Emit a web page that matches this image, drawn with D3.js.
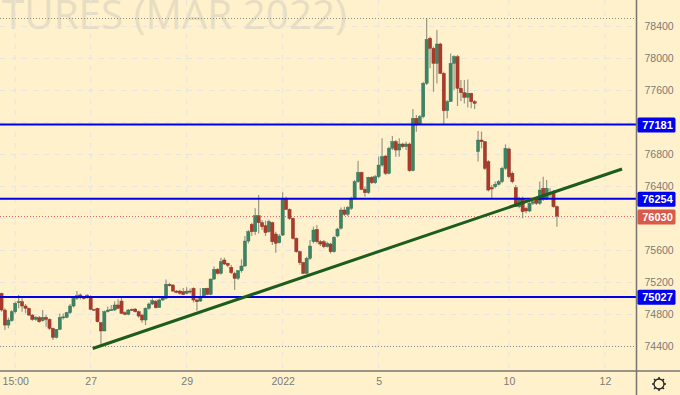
<!DOCTYPE html>
<html>
<head>
<meta charset="utf-8">
<script src="https://cdn.jsdelivr.net/npm/d3@7"></script>
<style>
  html, body { margin: 0; padding: 0; background: #fff1cc; }
  svg { display: block; }
  .axis text { font-family: "Liberation Sans", sans-serif; font-size: 10.5px; fill: #7c7b74; }
  .axis .domain, .axis line { display: none; }
</style>
</head>
<body>
<svg id="chart"></svg>
<script>
const opens = [75064,74856,74668,74723,74835,74948,74960,74906,74877,74793,74739,74760,74723,74764,74739,74627,74514,74614,74764,74764,74823,74906,75002,75044,75010,75010,75023,74864,74877,74698,74594,74835,74856,74856,74919,74968,74823,74802,74864,74868,74835,74793,74731,74877,74931,74965,74889,74981,75002,75177,75168,75093,75093,75085,75064,75093,75127,74981,74968,75023,75127,75052,75243,75364,75314,75481,75439,
  75389,75314,75252,75348,75406,75718,75927,75835,76035,75948,75910,75835,75948,75806,75698,75793,76252,76114,76002,75752,75585,75448,75314,75502,75710,75864,75710,75710,75648,75681,75585,75781,75877,76106,76052,76127,76252,76460,76577,76364,76323,76514,76448,76523,76668,76781,76564,76877,76960,76856,76931,76898,76931,
  76598,77252,77181,77273,77689,78252,78127,77939,78181,77814,77348,77460,77939,78023,77627,77573,77514,77564,77460,
  76836,76981,76961,76711,76386,76398,76427,76461,76627,76869,76565,76386,76148,76252,76127,76094,76190,76231,76190,76377,76244,76315,76315,76148];
const closes = [74856,74668,74731,74835,74939,74960,74906,74877,74793,74739,74764,74710,74764,74739,74627,74514,74614,74764,74770,74823,74906,75002,75035,75010,75002,75039,74864,74856,74710,74594,74835,74856,74860,74919,74877,74814,74802,74856,74856,74835,74781,74731,74877,74931,74973,74885,74981,75010,75177,75160,75093,75077,75064,75052,75093,75085,74981,74960,75023,75127,75052,75243,75364,75314,75460,75431,75414,
  75323,75252,75348,75406,75718,75835,75835,76035,75948,75898,75823,75960,75710,75689,75781,76252,76114,76002,75752,75585,75448,75314,75502,75656,75856,75710,75681,75648,75689,75585,75764,75868,76106,76052,76139,76252,76460,76577,76364,76323,76514,76448,76523,76668,76773,76564,76877,76960,76856,76931,76898,76931,76598,
  77252,77169,77273,77689,78239,78127,77939,78181,77814,77348,77460,77939,78023,77627,77573,77514,77564,77460,77439,
  76981,76961,76627,76356,76369,76427,76461,76627,76877,76523,76461,76148,76252,76086,76094,76190,76211,76190,76356,76244,76377,76320,76148,76030];
const highs = [75073,74877,74764,74856,74960,75044,75002,74931,74889,74806,74781,74781,74856,74793,74752,74639,74620,74814,74814,74835,74931,75023,75093,75064,75031,75056,75040,74870,74885,74710,74850,74900,74919,74965,74990,75005,74840,74870,74875,74880,74850,74810,74890,74950,75002,74985,75000,75030,75239,75195,75180,75105,75110,75130,75140,75125,75140,75000,75127,75130,75135,75250,75400,75380,75510,75510,75450,
  75418,75335,75356,75489,75781,75856,75948,76127,76293,75981,75973,75989,75960,75835,75806,76327,76273,76127,76014,75764,75598,75460,75523,75731,75898,75918,75731,75731,75710,75698,75781,75885,76139,76148,76156,76273,76481,76723,76585,76398,76523,76531,76543,76773,77002,76793,76898,77031,76981,77002,76948,76960,76948,
  77368,77293,77293,77710,78502,78273,78148,78356,78197,77835,77481,78064,78040,78043,77731,77731,77739,77573,77481,
  77094,77086,76969,76731,76419,76461,76481,76648,76927,76886,76586,76419,76273,76273,76148,76231,76244,76273,76461,76523,76481,76377,76356,76161];
const lows = [74835,74606,74627,74710,74814,74877,74835,74814,74781,74723,74723,74698,74710,74648,74606,74481,74500,74606,74739,74752,74806,74889,74981,74989,74989,74998,74856,74850,74700,74418,74590,74825,74845,74845,74870,74805,74790,74790,74845,74825,74760,74698,74668,74860,74920,74875,74880,74970,74990,75150,75085,75065,75050,75040,75050,75060,74950,74848,74955,75010,75040,75040,75230,75300,75300,75420,75390,
  75306,75106,75231,75323,75398,75689,75781,75793,75814,75856,75781,75823,75668,75573,75689,75781,76106,75981,75739,75573,75418,75306,75306,75481,75689,75689,75656,75627,75639,75564,75573,75764,75864,76031,76031,76106,76239,76448,76356,76273,76306,76431,76431,76502,76648,76543,76552,76856,76773,76773,76877,76856,76585,
  76590,77085,77169,77252,77669,77877,77585,77689,77806,77181,77252,77920,77606,77406,77470,77439,77389,77377,77370,
  76711,76877,76606,76336,76244,76377,76411,76440,76606,76502,76440,76244,76127,76002,76065,76077,76169,76169,76169,76219,76231,76261,76135,75898];

const priceTicks = [74400,74800,75200,75600,76000,76400,76800,77200,77600,78000,78400];
// 77200 and 76000 sit under the price tags, so they get no label
const priceLabels = [74400,74800,75200,75600,76400,76800,77600,78000,78400];
const timeTickIndex = [4,26,54,82,110,148,176];
const timeTickLabels = ['15:00','27','29','2022','5','10','12'];
const levels = [77181,76254,75027];
const lastPrice = 76030;
const dottedLevels = [78500,74400];
const trendIndex = [26.6,181];
const trendPrice = [74375,76619];

const width = 680, height = 395;
const plotRight = 636.5, plotBottom = 371;
const candleStep = 48 / 14;

// price axis: 32px per 400, 78400 sits at y=26.5
const y = d3.scaleLinear().domain([78400,74400]).range([26.5,346.5]);
const x = d3.scaleLinear().domain([0,100]).range([1.5,1.5 + 100 * candleStep]);

const svg = d3.select('#chart').attr('width', width).attr('height', height);

const clip = svg.append('defs').append('clipPath').attr('id', 'plot');
clip.append('rect').attr('width', plotRight).attr('height', plotBottom);

// watermark
svg.append('text')
    .attr('x', 347).attr('y', 29)
    .attr('text-anchor', 'end')
    .attr('textLength', 345).attr('lengthAdjust', 'spacingAndGlyphs')
    .style('font-family', '"Open Sans", sans-serif')
    .style('font-size', '41px')
    .style('fill', '#e7ddc2')
    .text('TURES (MAR 2022)');

// grid
const plot = svg.append('g').attr('clip-path', 'url(#plot)');

plot.append('g').selectAll('line')
    .data(priceTicks)
  .join('line')
    .attr('x1', 0).attr('x2', plotRight)
    .attr('y1', d => y(d)).attr('y2', d => y(d))
    .attr('stroke', '#e8e4df').attr('stroke-dasharray', '5,6');

plot.append('g').selectAll('line')
    .data(timeTickIndex)
  .join('line')
    .attr('x1', d => x(d)).attr('x2', d => x(d))
    .attr('y1', 0).attr('y2', plotBottom)
    .attr('stroke', '#e8e4df').attr('stroke-dasharray', '5,6');

// high and low markers
plot.append('g').selectAll('line')
    .data(dottedLevels)
  .join('line')
    .attr('x1', 0).attr('x2', plotRight)
    .attr('y1', d => y(d)).attr('y2', d => y(d))
    .attr('stroke', '#8f8c80').attr('stroke-dasharray', '1,2');

plot.append('line')
    .attr('x1', 0).attr('x2', plotRight)
    .attr('y1', y(lastPrice) + 0.5).attr('y2', y(lastPrice) + 0.5)
    .attr('stroke', '#d9604e').attr('stroke-dasharray', '1,2');

// candles
const candles = plot.append('g').selectAll('g')
    .data(opens.map((o, i) => i))
  .join('g');

candles.append('line')
    .attr('x1', i => x(i)).attr('x2', i => x(i))
    .attr('y1', i => y(highs[i])).attr('y2', i => y(lows[i]))
    .attr('stroke', '#6f6f68').attr('stroke-opacity', 0.7)
    .attr('stroke-width', 1.2);

candles.append('rect')
    .attr('x', i => x(i) - 1.6)
    .attr('width', 3.2)
    .attr('y', i => y(Math.max(opens[i], closes[i])))
    .attr('height', i => Math.max(1, Math.abs(y(opens[i]) - y(closes[i]))))
    .attr('fill', i => closes[i] >= opens[i] ? '#3c8464' : '#ab3a2a')
    .attr('stroke', i => closes[i] >= opens[i] ? '#2f6e52' : '#8c2c1e')
    .attr('stroke-width', 0.4);

// support and resistance
plot.append('g').selectAll('line')
    .data(levels)
  .join('line')
    .attr('x1', 0).attr('x2', plotRight)
    .attr('y1', d => y(d) + 0.6).attr('y2', d => y(d) + 0.6)
    .attr('stroke', '#0000e6').attr('stroke-width', 2);

plot.append('line')
    .attr('x1', x(trendIndex[0])).attr('x2', x(trendIndex[1]))
    .attr('y1', y(trendPrice[0])).attr('y2', y(trendPrice[1]))
    .attr('stroke', '#1c5c1c').attr('stroke-width', 3);

// axes
svg.append('g')
    .attr('class', 'axis')
    .attr('transform', `translate(${plotRight + 8},0)`)
    .call(d3.axisRight(y).tickValues(priceLabels).tickSize(0).tickPadding(0).tickFormat(d3.format('d')));

svg.append('g')
    .attr('class', 'axis')
    .attr('transform', `translate(0,${plotBottom + 5})`)
    .call(d3.axisBottom(x).tickValues(timeTickIndex).tickSize(0).tickPadding(2)
      .tickFormat((d, i) => timeTickLabels[i]));

svg.append('line')
    .attr('x1', plotRight).attr('x2', plotRight)
    .attr('y1', 0).attr('y2', height)
    .attr('stroke', '#77756e').attr('stroke-width', 1.5);

svg.append('line')
    .attr('x1', 0).attr('x2', width)
    .attr('y1', plotBottom).attr('y2', plotBottom)
    .attr('stroke', '#77756e').attr('stroke-width', 1.5);

// price tags
const tags = levels.map(v => ({ v, color: '#0000ee' })).concat([{ v: lastPrice, color: '#d85a48' }]);

const tag = svg.append('g').selectAll('g')
    .data(tags)
  .join('g')
    .attr('transform', d => `translate(637.5,${y(d.v) + 1})`);

tag.append('rect')
    .attr('y', -7.5).attr('width', 38).attr('height', 15).attr('rx', 1.5)
    .attr('fill', d => d.color);

tag.append('text')
    .attr('x', 20).attr('dy', '0.36em')
    .attr('text-anchor', 'middle')
    .style('font-family', '"Liberation Sans", sans-serif')
    .style('font-size', '11px').style('font-weight', 'bold')
    .style('fill', '#fff')
    .text(d => d.v);

// settings gear
const gear = svg.append('g').attr('transform', 'translate(659,384)');
gear.append('circle').attr('r', 5).attr('fill', 'none').attr('stroke', '#222').attr('stroke-width', 1.3);
gear.selectAll('line')
    .data(d3.range(8).map(i => i * Math.PI / 4))
  .join('line')
    .attr('x1', a => Math.cos(a) * 5).attr('y1', a => Math.sin(a) * 5)
    .attr('x2', a => Math.cos(a) * 7).attr('y2', a => Math.sin(a) * 7)
    .attr('stroke', '#222').attr('stroke-width', 1.5);
</script>
</body>
</html>
